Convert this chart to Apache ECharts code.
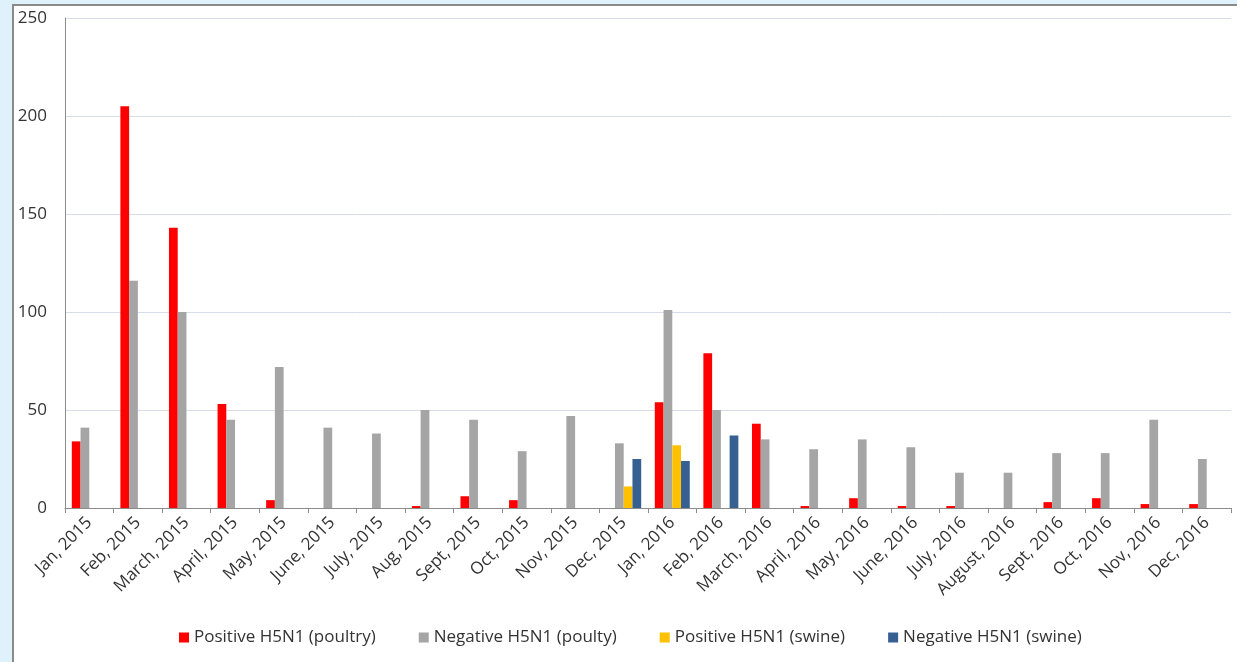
<!DOCTYPE html>
<html>
<head>
<meta charset="utf-8">
<script src="https://cdn.jsdelivr.net/npm/echarts@6/dist/echarts.min.js"></script>
<style>
html,body{margin:0;padding:0;background:#dff1fb;}
#chart{width:1237px;height:662px;}
</style>
</head>
<body>
<div id="chart"></div>
<script>
const categories = ["Jan, 2015","Feb, 2015","March, 2015","April, 2015","May, 2015","June, 2015","July, 2015","Aug, 2015","Sept, 2015","Oct, 2015","Nov, 2015","Dec, 2015","Jan, 2016","Feb, 2016","March, 2016","April, 2016","May, 2016","June, 2016","July, 2016","August, 2016","Sept, 2016","Oct, 2016","Nov, 2016","Dec, 2016"];
const positivePoultry = [34,205,143,53,4,0,0,1,6,4,0,0,54,79,43,1,5,1,1,0,3,5,2,2];
const negativePoultry = [41,116,100,45,72,41,38,50,45,29,47,33,101,50,35,30,35,31,18,18,28,28,45,25];
const positiveSwine   = [0,0,0,0,0,0,0,0,0,0,0,11,32,0,0,0,0,0,0,0,0,0,0,0];
const negativeSwine   = [0,0,0,0,0,0,0,0,0,0,0,25,24,37,0,0,0,0,0,0,0,0,0,0];
const seriesNames = ["Positive H5N1 (poultry)","Negative H5N1 (poulty)","Positive H5N1 (swine)","Negative H5N1 (swine)"];
const yTicks = [0,50,100,150,200,250];

const colors = ["#ff0000","#a5a5a5","#ffc000","#376092"];
const chart = echarts.init(document.getElementById('chart'), null, {renderer:'canvas'});
const font = "'Open Sans', Lato, sans-serif";
const dataSets = [positivePoultry, negativePoultry, positiveSwine, negativeSwine];

chart.setOption({
  backgroundColor: '#dff1fb',
  animation: false,
  color: colors,
  graphic: [{
    type: 'rect', z: -10, silent: true,
    shape: {x: 13, y: 5, width: 1240, height: 670},
    style: {fill: '#ffffff', stroke: '#8a8a8a', lineWidth: 2}
  }],
  grid: {left: 65, right: 6, top: 18, bottom: 154, containLabel: false},
  legend: {
    left: 174, top: 624,
    itemWidth: 10, itemHeight: 10, itemGap: 43,
    icon: 'rect',
    textStyle: {fontFamily: font, fontSize: 17, color: '#333333'},
    data: seriesNames
  },
  xAxis: {
    type: 'category',
    data: categories,
    boundaryGap: true,
    axisLine: {lineStyle: {color: '#8c8c8c', width: 1}},
    axisTick: {show: true, length: 5, alignWithLabel: false, lineStyle: {color: '#8c8c8c'}},
    axisLabel: {rotate: 45, fontFamily: font, fontSize: 17, color: '#333333', margin: 12, interval: 0}
  },
  yAxis: {
    type: 'value',
    min: yTicks[0], max: yTicks[yTicks.length-1], interval: 50,
    axisLine: {show: true, lineStyle: {color: '#8c8c8c', width: 1}},
    axisTick: {show: false},
    splitLine: {lineStyle: {color: '#d6dde8', width: 1}},
    axisLabel: {fontFamily: font, fontSize: 17, color: '#333333', margin: 18}
  },
  series: seriesNames.map((n, i) => ({
    name: n, type: 'bar',
    data: dataSets[i],
    barGap: '0%', barCategoryGap: '28%',
    itemStyle: {color: colors[i]}
  }))
});
</script>
</body>
</html>
